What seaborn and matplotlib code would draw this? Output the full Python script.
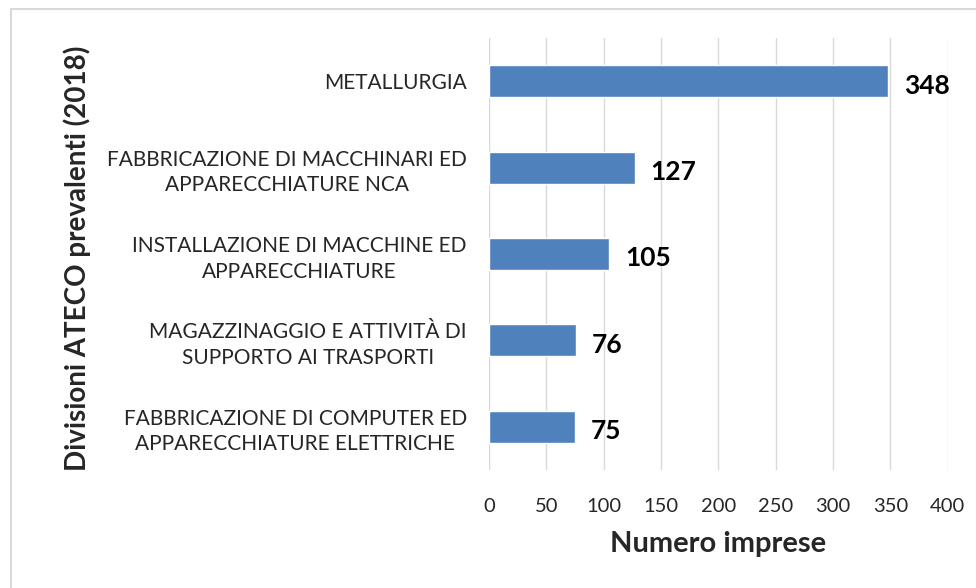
import matplotlib
matplotlib.use("Agg")
import matplotlib.pyplot as plt
import pandas as pd
import seaborn as sns
from matplotlib.lines import Line2D

# divisioni ATECO e numero imprese
divisioni = [
    "METALLURGIA",
    "FABBRICAZIONE DI MACCHINARI ED\nAPPARECCHIATURE NCA",
    "INSTALLAZIONE DI MACCHINE ED\nAPPARECCHIATURE",
    "MAGAZZINAGGIO E ATTIVITÀ DI\nSUPPORTO AI TRASPORTI",
    "FABBRICAZIONE DI COMPUTER ED\nAPPARECCHIATURE ELETTRICHE",
]
imprese = [348, 127, 105, 76, 75]
x_ticks = [0, 50, 100, 150, 200, 250, 300, 350, 400]

df = pd.DataFrame({"Divisione": divisioni, "Imprese": imprese})

sns.set_style("white")
plt.rcParams["font.family"] = ["Lato", "DejaVu Sans"]

fig = plt.figure(figsize=(9.76, 5.88), dpi=100)
ax = fig.add_axes([0.501, 0.201, 0.470, 0.734])

sns.barplot(data=df, x="Imprese", y="Divisione", color="#4F81BD",
            width=0.37, saturation=1, ax=ax)

ax.set_xlim(0, 400)
ax.set_ylim(4.5, -0.5)
ax.set_xticks(x_ticks)
ax.set_xticklabels([str(t) for t in x_ticks], fontsize=14.5, color="#262626")
ax.grid(axis="x", color="#d9d9d9", linewidth=1)
ax.set_axisbelow(True)
for s in ax.spines.values():
    s.set_visible(False)
ax.tick_params(axis="both", length=0)
ax.tick_params(axis="x", pad=20)
ax.tick_params(axis="y", pad=16)
for lbl in ax.get_yticklabels():
    lbl.set_fontsize(15)
    lbl.set_multialignment("center")
    lbl.set_linespacing(1.35)
    lbl.set_color("#262626")

for i, v in enumerate(imprese):
    ax.text(v + 14, i + 0.05, str(v), va="center", ha="left",
            fontsize=19, fontweight="bold", color="black")

ax.set_xlabel("Numero imprese", fontsize=21, fontweight="bold", labelpad=12)
ax.set_ylabel("")
fig.text(0.079, 0.561, "Divisioni ATECO prevalenti (2018)", rotation=90,
         fontsize=20, fontweight="bold", ha="center", va="center")

# cornice del grafico
fig.add_artist(Line2D([0.011, 1.0], [1 - 9 / 588, 1 - 9 / 588],
                      color="#d9d9d9", linewidth=1.5, transform=fig.transFigure))
fig.add_artist(Line2D([0.011, 0.011], [0.0, 1 - 9 / 588],
                      color="#d9d9d9", linewidth=1.5, transform=fig.transFigure))

fig.savefig("out.png", dpi=100)
